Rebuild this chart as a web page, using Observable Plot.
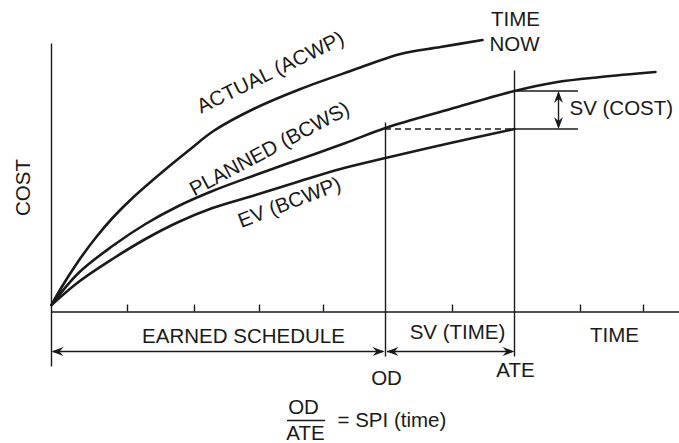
<!DOCTYPE html>
<html>
<head>
<meta charset="utf-8">
<script src="https://cdn.jsdelivr.net/npm/d3@7"></script>
<script src="https://cdn.jsdelivr.net/npm/@observablehq/plot@0.6"></script>
<style>
  html, body { margin: 0; padding: 0; background: #fff; }
  #chart svg { display: block; }
</style>
</head>
<body>
<div id="chart"></div>
<script>
// ---- data (time units along x, cost units along y; origin at the axes' corner) ----
const actualTime  = [0, 9, 27, 44, 61, 81, 112, 139, 162, 202, 249, 299, 349, 389, 431];
const actualCost  = [7, 23, 51, 74, 94, 114, 141, 163, 181, 203, 223, 241, 258, 265, 272];
const plannedTime = [0, 27, 61, 94, 127, 161, 204, 249, 294, 334, 399, 463, 506, 549, 604];
const plannedCost = [7, 39, 66, 88, 106, 121, 137, 153, 169, 184, 203, 221, 230, 235, 240];
const evTime      = [0, 27, 61, 94, 127, 161, 204, 249, 289, 334, 399, 463];
const evCost      = [7, 30, 53, 73, 90, 104, 117, 131, 143, 154, 169, 183];
const tickTimes   = [76, 143, 208, 272, 401, 529, 592];

const OD = 334, ATE = 463, TIME_END = 628;
const COST_TOP = 268, COST_BOTTOM = -55;
const EV_AT_ATE = 183, PV_AT_ATE = 221;
const odTop = 189, ateTop = 241, markerBottom = -45;
const svCostEnd = 527, svCostArrowTime = 507;
const arrowRowCost = -39.5;

const toRows = (ts, cs) => ts.map((t, i) => ({t, c: cs[i]}));
const actual = toRows(actualTime, actualCost);
const planned = toRows(plannedTime, plannedCost);
const ev = toRows(evTime, evCost);

// stealth-type arrowheads, tip at the anchor point
function head(dx, dy) {
  const L = 12, W = 4.5, N = 8;
  return {
    draw(ctx) {
      const px = -dy, py = dx; // perpendicular
      ctx.moveTo(0, 0);
      ctx.lineTo(-dx * L + px * W, -dy * L + py * W);
      ctx.lineTo(-dx * N, -dy * N);
      ctx.lineTo(-dx * L - px * W, -dy * L - py * W);
      ctx.closePath();
    }
  };
}
const headRight = head(1, 0), headLeft = head(-1, 0), headUp = head(0, -1), headDown = head(0, 1);

const FONT = "'Liberation Sans', Arial, Helvetica, sans-serif";
const ink = "#1a1a1a";
const txt = {fontSize: 20.5, fill: ink, fontFamily: FONT};

const chart = Plot.plot({
  width: 679,
  height: 443,
  marginTop: 0, marginBottom: 0, marginLeft: 0, marginRight: 0,
  x: {domain: [-51, 628], axis: null},
  y: {domain: [-131.5, 311.5], axis: null},
  style: {fontFamily: FONT, background: "#fff"},
  marks: [
    // axes
    Plot.ruleX([0], {y1: COST_BOTTOM, y2: COST_TOP, stroke: ink, strokeWidth: 1.4}),
    Plot.ruleY([0], {x1: 0, x2: TIME_END, stroke: ink, strokeWidth: 1.4}),
    Plot.ruleX(tickTimes, {y1: 0, y2: 7, stroke: ink, strokeWidth: 1.4}),
    // OD and ATE markers
    Plot.ruleX([OD], {y1: markerBottom, y2: odTop, stroke: ink, strokeWidth: 1.4}),
    Plot.ruleX([ATE], {y1: markerBottom, y2: ateTop, stroke: ink, strokeWidth: 1.4}),
    // dashed projection
    Plot.ruleY([EV_AT_ATE], {x1: OD, x2: ATE, stroke: ink, strokeWidth: 1.3, strokeDasharray: "6,4"}),
    // SV (cost) extension lines
    Plot.ruleY([PV_AT_ATE, EV_AT_ATE], {x1: ATE, x2: svCostEnd, stroke: ink, strokeWidth: 1.3}),
    Plot.ruleX([svCostArrowTime], {y1: EV_AT_ATE + 2, y2: PV_AT_ATE - 2, stroke: ink, strokeWidth: 1.4}),
    Plot.dot([{t: svCostArrowTime, c: PV_AT_ATE}], {x: "t", y: "c", symbol: headUp, fill: ink, stroke: "none", r: 5}),
    Plot.dot([{t: svCostArrowTime, c: EV_AT_ATE}], {x: "t", y: "c", symbol: headDown, fill: ink, stroke: "none", r: 5}),
    // curves
    Plot.line(actual, {x: "t", y: "c", curve: "catmull-rom", stroke: ink, strokeWidth: 2.6}),
    Plot.line(planned, {x: "t", y: "c", curve: "catmull-rom", stroke: ink, strokeWidth: 2.6}),
    Plot.line(ev, {x: "t", y: "c", curve: "catmull-rom", stroke: ink, strokeWidth: 2.6}),
    // bottom dimension arrows
    Plot.ruleY([arrowRowCost], {x1: 2, x2: OD - 2, stroke: ink, strokeWidth: 1.4}),
    Plot.ruleY([arrowRowCost], {x1: OD + 2, x2: ATE - 2, stroke: ink, strokeWidth: 1.4}),
    Plot.dot([{t: 0, c: arrowRowCost}, {t: OD + 1, c: arrowRowCost}], {x: "t", y: "c", symbol: headLeft, fill: ink, stroke: "none", r: 5}),
    Plot.dot([{t: OD - 1, c: arrowRowCost}, {t: ATE, c: arrowRowCost}], {x: "t", y: "c", symbol: headRight, fill: ink, stroke: "none", r: 5}),
    // curve labels
    Plot.text(["ACTUAL (ACWP)"], {x: 219, y: 239.5, rotate: -26, ...txt}),
    Plot.text(["PLANNED (BCWS)"], {x: 218, y: 163, rotate: -28, ...txt}),
    Plot.text(["EV (BCWP)"], {x: 238, y: 109.5, rotate: -21, ...txt}),
    // other labels
    Plot.text(["COST"], {x: -28, y: 124.5, rotate: -90, ...txt}),
    Plot.text(["TIME"], {x: ATE + 1, y: 293, ...txt}),
    Plot.text(["NOW"], {x: ATE, y: 268, ...txt}),
    Plot.text(["SV (COST)"], {x: 518, y: 203.5, textAnchor: "start", ...txt}),
    Plot.text(["EARNED SCHEDULE"], {x: 192, y: -24, ...txt}),
    Plot.text(["SV (TIME)"], {x: 406, y: -20.5, ...txt}),
    Plot.text(["TIME"], {x: 563, y: -23.5, ...txt}),
    Plot.text(["OD"], {x: OD + 1, y: -66.5, ...txt}),
    Plot.text(["ATE"], {x: ATE + 1, y: -58, ...txt}),
    // SPI formula
    Plot.text(["OD"], {x: 252, y: -95, ...txt}),
    Plot.ruleY([-108.5], {x1: 236, x2: 274, stroke: ink, strokeWidth: 1.4}),
    Plot.text(["ATE"], {x: 254, y: -121.5, ...txt}),
    Plot.text(["= SPI (time)"], {x: 286, y: -108.5, textAnchor: "start", ...txt})
  ]
});
document.getElementById("chart").append(chart);
</script>
</body>
</html>
